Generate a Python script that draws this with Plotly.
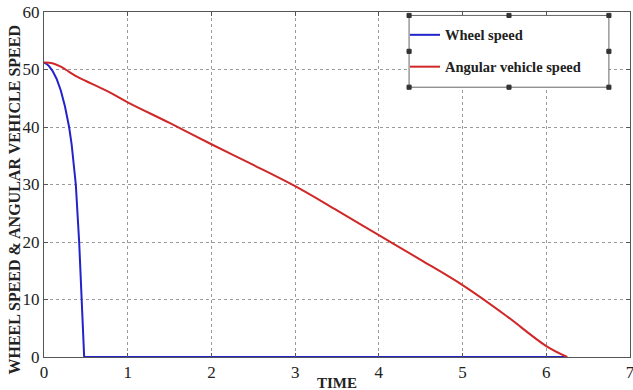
import plotly.graph_objects as go

# Data
wheel_t = [0, 0.03, 0.06, 0.1, 0.15, 0.2, 0.25, 0.3, 0.33, 0.36, 0.38, 0.42, 0.45, 0.48, 6.25]
wheel_v = [51.2, 51.0, 50.6, 49.8, 48.4, 46.4, 43.6, 40.0, 37.0, 33.0, 30.0, 20.0, 10.0, 0.0, 0.0]

veh_t = [0, 0.1, 0.2, 0.3, 0.4, 0.5, 0.75, 1.0, 1.5, 2.0, 2.5, 3.0, 3.5, 4.0, 4.5, 5.0, 5.5, 6.0, 6.25]
veh_v = [51.2, 51.1, 50.5, 49.6, 48.7, 48.0, 46.3, 44.3, 40.7, 37.0, 33.4, 29.7, 25.5, 21.2, 16.9, 12.5, 7.4, 1.9, 0.0]

x_ticks = [0, 1, 2, 3, 4, 5, 6, 7]
y_ticks = [0, 10, 20, 30, 40, 50, 60]

SERIF = "Liberation Serif"
TICKFONT = dict(family=SERIF, size=17, color="#222222")

fig = go.Figure()
fig.add_trace(go.Scatter(x=wheel_t, y=wheel_v, mode="lines", name="Wheel speed",
                         line=dict(color="#2323cc", width=2), legendgroup="a"))
fig.add_trace(go.Scatter(x=veh_t, y=veh_v, mode="lines", name="Angular vehicle speed",
                         line=dict(color="#d02828", width=2, shape="spline", smoothing=1.0),
                         legendgroup="b"))

axis_common = dict(showgrid=True, gridcolor="#9a9a9a", griddash="dot", gridwidth=1,
                   showline=True, linecolor="#555555", linewidth=1, mirror="ticks",
                   ticks="inside", ticklen=4, tickcolor="#555555", zeroline=False,
                   ticklabeloverflow="allow", automargin=False)

fig.update_layout(
    xaxis=dict(range=[0, 7], tickmode="array", tickvals=x_ticks,
               ticktext=[str(v) for v in x_ticks], tickfont=TICKFONT, **axis_common),
    yaxis=dict(range=[0, 60], tickmode="array", tickvals=y_ticks,
               ticktext=[str(v) for v in y_ticks], tickfont=TICKFONT, **axis_common),
)

# legend box with selection handles (MATLAB style)
lx0, lx1, ly0, ly1 = 0.623, 0.964, 0.782, 0.990
fig.add_shape(type="rect", xref="paper", yref="paper", x0=lx0, x1=lx1, y0=ly0, y1=ly1,
              line=dict(color="#666666", width=1), fillcolor="white", layer="above")
hsx = 0.0035
hsy = 0.006
for hx in [lx0, (lx0 + lx1) / 2, lx1]:
    for hy in [ly0, (ly0 + ly1) / 2, ly1]:
        if hx == (lx0 + lx1) / 2 and hy == (ly0 + ly1) / 2:
            continue
        fig.add_shape(type="rect", xref="paper", yref="paper",
                      x0=hx - hsx, x1=hx + hsx, y0=hy - hsy, y1=hy + hsy,
                      line=dict(color="#333333", width=1), fillcolor="#333333", layer="above")

fig.add_annotation(text="WHEEL SPEED & ANGULAR VEHICLE SPEED", xref="paper", yref="paper",
                   x=-0.052, y=0.455, xanchor="center", yanchor="middle", textangle=-90,
                   showarrow=False, font=dict(family=SERIF, size=16, color="#222222", weight="bold"))
fig.add_annotation(text="TIME", xref="paper", yref="paper", x=0.5, y=-0.074,
                   xanchor="center", yanchor="middle", showarrow=False,
                   font=dict(family=SERIF, size=15, color="#222222", weight="bold"))

fig.update_layout(
    width=633, height=390,
    margin=dict(l=44, r=3, t=12, b=33, autoexpand=False),
    paper_bgcolor="white", plot_bgcolor="white",
    font=dict(family=SERIF, size=17, color="#222222"),
    showlegend=True,
    legend=dict(x=lx0 - 0.007, y=ly1 - 0.01, xanchor="left", yanchor="top",
                bgcolor="rgba(0,0,0,0)", borderwidth=0, traceorder="grouped",
                tracegroupgap=10,
                font=dict(family=SERIF, size=14.5, color="#222222", weight="bold")),
)

fig.write_html("out.html")
